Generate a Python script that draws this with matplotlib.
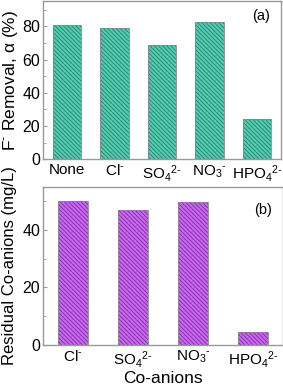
import matplotlib
matplotlib.use("Agg")
import matplotlib.pyplot as plt
import matplotlib.ticker as mticker

plt.rcParams["font.family"] = ["Liberation Sans", "DejaVu Sans"]
plt.rcParams["mathtext.default"] = "regular"
plt.rcParams["hatch.linewidth"] = 0.55

# Dados
anions_a = ["None", "Cl$^{\u2010}$", "SO$_4$$^{2\u2010}$", "NO$_3$$^{\u2010}$",
            "HPO$_4$$^{2\u2010}$"]
remocao_f = [81, 79, 69, 83, 24.5]

anions_b = ["Cl$^{\u2010}$", "SO$_4$$^{2\u2010}$", "NO$_3$$^{\u2010}$",
            "HPO$_4$$^{2\u2010}$"]
residual = [50, 47, 49.7, 4.4]

COR_A = "#50CDB0"
HATCH_A = "#2A7665"
COR_B = "#CC66F2"
HATCH_B = "#6E2C98"
COR_EIXO = "#999999"
HACHURA = "\\" * 8  # hachura fina

fig = plt.figure(figsize=(2.83, 3.91), dpi=100)
ax1 = fig.add_axes([0.152, 0.593, 0.841, 0.405])
ax2 = fig.add_axes([0.152, 0.118, 0.848, 0.404])


def _estilo(ax):
    for s in ax.spines.values():
        s.set_color(COR_EIXO)
        s.set_linewidth(1.0)
    ax.tick_params(axis="y", direction="in", length=3, color=COR_EIXO,
                   labelsize=11.5, pad=2)
    ax.tick_params(axis="y", which="minor", direction="in", length=1.8,
                   color=COR_EIXO)
    ax.tick_params(axis="x", length=0, labelsize=11, pad=3)


# Painel (a)
x1 = range(len(anions_a))
ax1.bar(x1, remocao_f, 0.6, color=COR_A, edgecolor=HATCH_A, hatch=HACHURA,
        linewidth=0)
ax1.bar(x1, remocao_f, 0.6, color="none", edgecolor="#888888", linewidth=0.6)
ax1.set_xlim(-0.5, 4.5)
ax1.set_ylim(0, 95.5)
ax1.yaxis.set_major_locator(mticker.MultipleLocator(20))
ax1.yaxis.set_minor_locator(mticker.MultipleLocator(10))
ax1.set_xticks(list(x1))
ax1.set_xticklabels(anions_a)
ax1.set_ylabel("F$^{\u2010}$ Removal, \u03b1 (%)", fontsize=12.5, labelpad=2)
ax1.text(0.955, 0.88, "(a)", transform=ax1.transAxes, ha="right", fontsize=10.5)
_estilo(ax1)

# Painel (b)
x2 = range(len(anions_b))
ax2.bar(x2, residual, 0.5, color=COR_B, edgecolor=HATCH_B, hatch=HACHURA,
        linewidth=0)
ax2.bar(x2, residual, 0.5, color="none", edgecolor="#888888", linewidth=0.6)
ax2.set_xlim(-0.5, 3.5)
ax2.set_ylim(0, 55)
ax2.yaxis.set_major_locator(mticker.MultipleLocator(20))
ax2.yaxis.set_minor_locator(mticker.MultipleLocator(10))
ax2.set_xticks(list(x2))
ax2.set_xticklabels(anions_b)
ax2.set_ylabel("Residual Co-anions (mg/L)", fontsize=12, labelpad=4)
ax2.set_xlabel("Co-anions", fontsize=12.5, labelpad=1)
ax2.text(0.955, 0.83, "(b)", transform=ax2.transAxes, ha="right", fontsize=10.5)
_estilo(ax2)

fig.savefig("out.png", dpi=100, facecolor="white")
